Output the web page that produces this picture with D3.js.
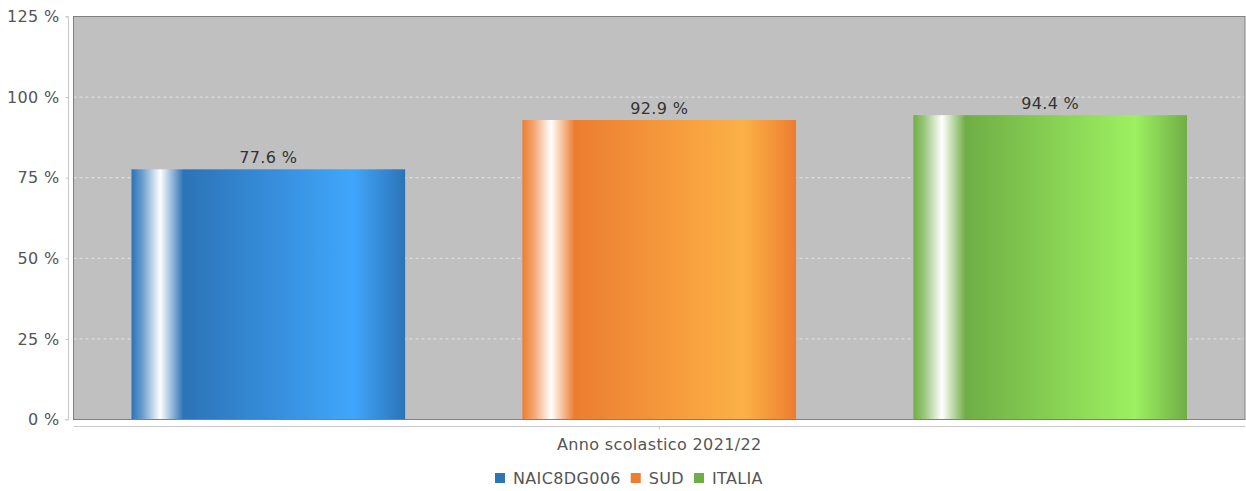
<!DOCTYPE html>
<html><head><meta charset="utf-8">
<script src="https://cdn.jsdelivr.net/npm/d3@7"></script>
<style>body{margin:0;background:#fff}svg{display:block;font-family:"DejaVu Sans",sans-serif}</style>
</head><body><svg id="c" width="1246" height="491"></svg>
<script>
const categories = ["Anno scolastico 2021/22"];
const seriesNames = ["NAIC8DG006", "SUD", "ITALIA"];
const seriesValues = [77.6, 92.9, 94.4];
const yTicks = [0, 25, 50, 75, 100, 125];
const seriesColors = [
  {dark:"#2c73b7", light:"#40a6fb", legend:"#2e75b6"},
  {dark:"#ec7d30", light:"#fcb146", legend:"#ed7d31"},
  {dark:"#6fae45", light:"#9df061", legend:"#70ad47"}
];

const FS = 16, LS = 0.35;
const svg = d3.select("#c");
const L = 73.5, R = 1245, T = 16.5, B = 419.5;
const y = d3.scaleLinear().domain([0,125]).range([B,T]);
const x0 = d3.scaleBand().domain(categories).range([L,R]);
const x1 = d3.scaleBand().domain(seriesNames).range([x0(categories[0])+58, x0(categories[0])+x0.bandwidth()-58]).paddingInner(0.3);

const defs = svg.append("defs");
seriesColors.forEach((c,i)=>{
  const g = defs.append("linearGradient").attr("id","g"+i).attr("x1","0").attr("x2","1").attr("y1","0").attr("y2","0");
  [[0,c.dark],[0.04,d3.interpolateRgb(c.dark,"#fff")(0.3)],[0.105,"#ffffff"],[0.19,c.dark],[0.81,c.light],[1,c.dark]]
    .forEach(s=>g.append("stop").attr("offset",s[0]).attr("stop-color",s[1]));
});

svg.append("rect").attr("x",L).attr("y",T).attr("width",R-L).attr("height",B-T).attr("fill","#c0c0c0");
svg.append("g").selectAll("line").data(yTicks.filter(t=>t>0&&t<125)).join("line")
  .attr("x1",L).attr("x2",R).attr("y1",d=>y(d)).attr("y2",d=>y(d))
  .attr("stroke","#e4e4e4").attr("stroke-dasharray","3,3").attr("stroke-width",1);

svg.append("g").selectAll("rect").data(seriesValues).join("rect")
  .attr("x",(d,i)=>x1(seriesNames[i])).attr("width",x1.bandwidth())
  .attr("y",d=>y(d)).attr("height",d=>B-y(d))
  .attr("fill",(d,i)=>`url(#g${i})`);
svg.append("g").selectAll("text").data(seriesValues).join("text")
  .attr("x",(d,i)=>x1(seriesNames[i])+x1.bandwidth()/2).attr("y",d=>y(d)-6)
  .attr("text-anchor","middle").attr("font-size",FS).attr("letter-spacing",LS).attr("fill","#333")
  .text(d=>d.toFixed(1)+" %");

svg.append("rect").attr("x",L).attr("y",T).attr("width",R-L).attr("height",B-T)
  .attr("fill","none").attr("stroke","#808080").attr("stroke-width",1);

const ya = svg.append("g").attr("transform","translate(68.5,0)")
  .call(d3.axisLeft(y).tickValues(yTicks).tickSize(3).tickPadding(6).tickFormat(d=>d+" %"));
ya.select(".domain").attr("stroke","#c8c8c8").attr("d",`M-3,${T}H0V${B}H-3`);
ya.selectAll(".tick line").attr("stroke","#c8c8c8");
ya.selectAll("text").attr("font-size",FS).attr("letter-spacing",LS).attr("fill","#555").attr("font-family","DejaVu Sans");

const xa = svg.append("g").attr("transform","translate(0,426.5)")
  .call(d3.axisBottom(x0).tickSize(3).tickPadding(9));
xa.select(".domain").attr("stroke","#c8c8c8").attr("d",`M${L},0H${R}`);
xa.selectAll(".tick line").attr("stroke","#c8c8c8");
xa.selectAll("text").attr("font-size",FS).attr("letter-spacing",LS).attr("fill","#555").attr("font-family","DejaVu Sans");

const lg = svg.append("g").attr("font-size",FS).attr("letter-spacing",LS).attr("fill","#555");
const widths=[];
const tmp = lg.append("text").attr("visibility","hidden");
seriesNames.forEach(n=>{tmp.text(n); widths.push(tmp.node().getComputedTextLength());});
tmp.remove();
let lx = 495;
seriesNames.forEach((n,k)=>{
  lg.append("rect").attr("x",lx).attr("y",473).attr("width",10).attr("height",10).attr("fill",seriesColors[k].legend);
  lg.append("text").attr("x",lx+18).attr("y",484).attr("fill","#555").text(n);
  lx += 18+widths[k]+10;
});
</script></body></html>
